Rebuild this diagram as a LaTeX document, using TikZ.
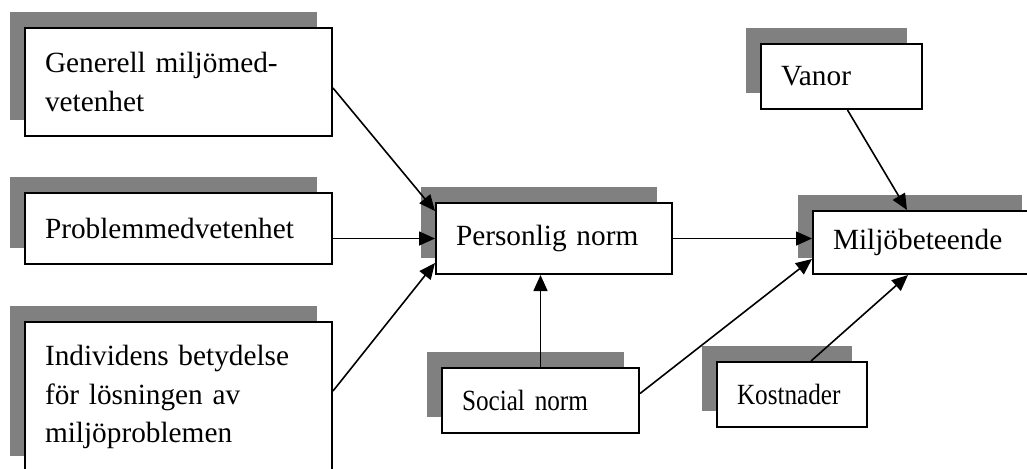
\documentclass[tikz,border=0pt]{standalone}
\usepackage{fontspec}
\setmainfont{Liberation Serif}
\newfontfamily\narrowserif{Liberation Serif}[FakeStretch=0.86]
\usetikzlibrary{arrows.meta,positioning,calc,shadows}
\definecolor{shadowgray}{RGB}{128,128,128}
\tikzset{
    box/.style={draw, line width=1pt, fill=white, align=left, inner xsep=10pt, inner ysep=0pt,
        font=\fontsize{14.65}{19.4}\selectfont,
        general shadow={fill=shadowgray, shadow xshift=-7.5pt, shadow yshift=8pt}},
    narrow box/.style={box, font=\fontsize{14.65}{19.4}\narrowserif},
    arr/.style={-{Triangle[length=8pt,width=7pt]}, line width=0.8pt},
}

\begin{document}
\begin{tikzpicture}[x=0.5pt,y=-0.5pt]

        \clip (0,0) rectangle (1027,468);

        % left column
        \node[box, text width=133.5pt, minimum height=54pt] (gen) at (178.5,82) {Generell miljömed-\\vetenhet};
        \node[box, text width=133.5pt, minimum height=35.5pt] (prob) at (178.5,228.5) {Problemmedvetenhet};
        \node[box, text width=133.5pt, minimum height=75pt] (indiv) at (178.5,397) {Individens betydelse\\för lösningen av\\miljöproblemen};

        % middle
        \node[box, text width=98pt, minimum height=35.5pt] (pers) at (554,238.5) {Personlig norm};
        \node[narrow box, text width=78.5pt, minimum height=32.5pt] (social) at (540.5,400.5) {Social norm};

        % right
        \node[box, text width=60.5pt, minimum height=32.5pt] (vanor) at (841.5,76.5) {Vanor};
        \node[box, text width=92pt, minimum height=31.5pt] (milj) at (925,242.5) {Miljöbeteende};
        \node[narrow box, text width=55pt, minimum height=32.5pt] (kost) at (792,394.5) {Kostnader};

        \draw[arr] ($(gen.east)+(0,6)$) -- ($(pers.north west)+(0,9)$);
        \draw[arr] (prob.east |- pers.west) -- (pers.west);
        \draw[arr] ($(indiv.east)+(0,-6)$) -- ($(pers.south west)+(0,-12)$);
        \draw[arr] (social.north) -- (social.north |- pers.south);
        \draw[arr] (pers.east) -- (pers.east -| milj.west);
        \draw[arr] ($(social.east)+(0,-7)$) -- ($(milj.south west)+(0,-16)$);
        \draw[arr] ($(vanor.south)+(6,0)$) -- ($(milj.north)+(-18,0)$);
        \draw[arr] ($(kost.north)+(19,0)$) -- ($(milj.south)+(-17,0)$);
    \end{tikzpicture}
\end{document}
